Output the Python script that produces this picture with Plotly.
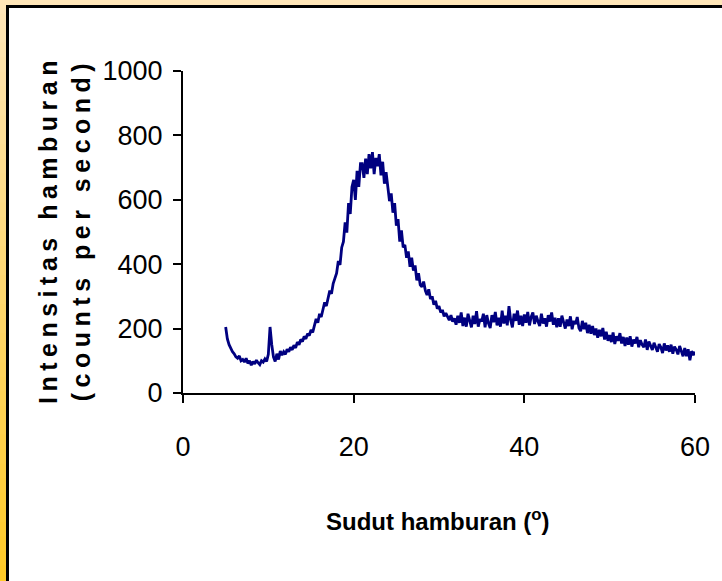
import plotly.graph_objects as go

# ---- data ----
angle_start = 5.0
angle_step = 0.2
intensity = [
    205, 168, 150, 138, 128,   # 5
    122, 112, 108, 115, 100,   # 6
    104, 96, 108, 92, 100,     # 7
    86, 98, 90, 102, 94,       # 8
    88, 100, 96, 106, 98,      # 9
    120, 205, 150, 112, 98,    # 10
    122, 104, 130, 118, 128,   # 11
    120, 136, 128, 142, 134,   # 12
    148, 140, 158, 150, 166,   # 13
    160, 176, 168, 184, 178,   # 14
    196, 188, 212, 230, 218,   # 15
    246, 236, 264, 282, 270,   # 16
    300, 318, 308, 340, 356,   # 17
    372, 410, 398, 452, 470,   # 18
    530, 498, 590, 556, 640,   # 19
    662, 600, 690, 640, 712,   # 20
    712, 668, 728, 680, 742,   # 21
    698, 748, 680, 730, 704,   # 22
    742, 676, 718, 650, 686,   # 23
    648, 596, 620, 560, 590,   # 24
    520, 540, 470, 505, 452,   # 25
    460, 420, 440, 392, 420,   # 26
    380, 396, 350, 372, 336,   # 27
    330, 346, 318, 304, 322,   # 28
    292, 300, 274, 286, 262,   # 29
    270, 250, 258, 238, 248,   # 30
    236, 226, 242, 222, 232,   # 31
    212, 240, 218, 250, 208,   # 32
    234, 206, 246, 220, 204,   # 33
    240, 214, 254, 206, 230,   # 34
    222, 246, 204, 242, 216,   # 35
    202, 242, 220, 252, 210,   # 36
    234, 206, 256, 216, 240,   # 37
    210, 270, 226, 204, 246,   # 38
    224, 256, 212, 240, 208,   # 39
    244, 218, 252, 210, 236,   # 40
    250, 214, 240, 222, 208,   # 41
    246, 216, 232, 206, 242,   # 42
    222, 250, 212, 234, 204,   # 43
    232, 206, 240, 218, 200,   # 44
    228, 208, 238, 198, 224,   # 45
    214, 236, 202, 192, 224,   # 46
    198, 218, 186, 212, 184,   # 47
    208, 180, 200, 172, 196,   # 48
    176, 202, 166, 190, 162,   # 49
    180, 158, 188, 152, 176,   # 50
    162, 186, 154, 174, 146,   # 51
    172, 150, 176, 144, 166,   # 52
    154, 174, 142, 164, 150,   # 53
    142, 166, 134, 160, 146,   # 54
    134, 156, 140, 128, 152,   # 55
    142, 124, 154, 132, 148,   # 56
    128, 150, 122, 144, 134,   # 57
    120, 146, 128, 114, 140,   # 58
    114, 136, 102, 130, 118,   # 59
    128,                       # 60
]
angles = [round(angle_start + i * angle_step, 2) for i in range(len(intensity))]

x_ticks = [0, 20, 40, 60]
y_ticks = [0, 200, 400, 600, 800, 1000]
x_title = "Sudut hamburan (<sup>o</sup>)"
y_title_lines = ["Intensitas hamburan", "(counts per second)"]

W, H = 722, 581
L, R, T, B = 183, 27, 71, 188
pw, ph = W - L - R, H - T - B

def px2x(px):
    return (px - L) / pw

def py2y(py):
    return (H - B - py) / ph

font = "Liberation Sans, Arial, sans-serif"

fig = go.Figure()
fig.add_trace(go.Scatter(
    x=angles, y=intensity, mode="lines",
    line=dict(color="#000080", width=2.8),
    showlegend=False, hoverinfo="skip",
))

# yellow gradient frame strip
shapes = []
nb = 40
c0 = (255, 230, 184)
c1 = (255, 202, 40)
for i in range(nb):
    f = i / (nb - 1)
    col = "rgb(%d,%d,%d)" % tuple(round(a + (b - a) * f) for a, b in zip(c0, c1))
    y0 = i * H / nb
    y1 = (i + 1) * H / nb + 1
    shapes.append(dict(type="rect", xref="paper", yref="paper", layer="below",
                       x0=px2x(-2), x1=px2x(W + 5), y0=py2y(y0 - 1), y1=py2y(y1),
                       fillcolor=col, line=dict(width=0)))
shapes.append(dict(type="rect", xref="paper", yref="paper", layer="below",
                   x0=px2x(7.5), x1=px2x(W + 20), y0=py2y(6.5), y1=py2y(H + 20),
                   fillcolor="white", line=dict(color="black", width=3)))

y_title = "<br>".join('<span style="letter-spacing:5.5px">' + s + "</span>" for s in y_title_lines)

fig.update_layout(
    width=W, height=H,
    margin=dict(l=L, r=R, t=T, b=B, pad=0),
    paper_bgcolor="white", plot_bgcolor="rgba(0,0,0,0)",
    shapes=shapes,
    xaxis=dict(range=[0, 60], tickvals=x_ticks, showgrid=False, zeroline=False,
               showline=True, linecolor="black", linewidth=2,
               ticks="outside", ticklen=8, tickwidth=2, tickcolor="black",
               ticklabelstandoff=21,
               tickfont=dict(family=font, size=27, color="black")),
    yaxis=dict(range=[0, 1000], tickvals=y_ticks, showgrid=False, zeroline=False,
               showline=True, linecolor="black", linewidth=2,
               ticks="outside", ticklen=8, tickwidth=2, tickcolor="black",
               ticklabelstandoff=5,
               tickfont=dict(family=font, size=27, color="black")),
    annotations=[
        dict(text="<b>" + x_title + "</b>", xref="paper", yref="paper",
             x=px2x(438), y=py2y(520), xanchor="center", yanchor="middle",
             showarrow=False, font=dict(family=font, size=24, color="black")),
        dict(text="<b>" + y_title + "</b>", xref="paper", yref="paper",
             x=px2x(64), y=py2y(230), xanchor="center", yanchor="middle",
             textangle=-90, showarrow=False,
             font=dict(family=font, size=25, color="black")),
    ],
)

fig.write_html("out.html", config={"displayModeBar": False},
               post_script="document.body.style.margin='0';document.body.style.overflow='hidden';")
